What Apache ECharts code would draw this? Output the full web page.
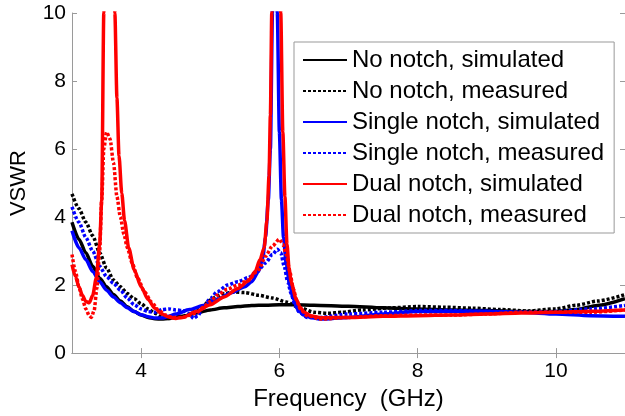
<!DOCTYPE html>
<html><head><meta charset="utf-8">
<script src="https://cdn.jsdelivr.net/npm/echarts@6/dist/echarts.min.js"></script>
<style>html,body{margin:0;padding:0;background:#fff}#c{width:625px;height:416px}</style>
</head><body><div id="c"></div>
<script>
const seriesNames = ['No notch, simulated','No notch, measured','Single notch, simulated','Single notch, measured','Dual notch, simulated','Dual notch, measured'];
const xTicks = [4, 6, 8, 10];
const yTicks = [0, 2, 4, 6, 8, 10];
const xName = 'Frequency  (GHz)';
const yName = 'VSWR';

const nsSimF = [3.0,3.1,3.2,3.3,3.4,3.5,3.6,3.7,3.8,3.9,4.0,4.1,4.2,4.3,4.4,4.6,4.8,5.0,5.2,5.4,5.6,5.8,6.0,6.2,6.5,7.0,7.5,8.0,8.5,9.0,9.5,10.0,10.3,10.6,11.0];
const nsSimV = [3.85,3.35,2.95,2.55,2.2,1.95,1.72,1.53,1.36,1.22,1.12,1.05,1.01,1.0,1.02,1.08,1.18,1.27,1.33,1.37,1.4,1.41,1.42,1.42,1.41,1.38,1.33,1.3,1.27,1.25,1.22,1.22,1.28,1.4,1.6];

const nsMeasF = [3.0,3.1,3.2,3.3,3.4,3.5,3.6,3.7,3.8,3.9,4.0,4.1,4.2,4.3,4.4,4.5,4.6,4.7,4.8,4.9,5.0,5.1,5.2,5.35,5.5,5.7,5.9,6.1,6.3,6.5,6.7,6.9,7.2,7.6,8.0,8.4,8.8,9.2,9.6,10.0,10.3,10.6,11.0];
const nsMeasV = [4.68,4.25,3.85,3.45,2.95,2.5,2.15,1.95,1.75,1.6,1.45,1.3,1.17,1.06,1.02,1.04,1.08,1.15,1.25,1.4,1.56,1.68,1.75,1.8,1.78,1.7,1.62,1.5,1.33,1.2,1.17,1.2,1.27,1.33,1.37,1.35,1.32,1.28,1.24,1.3,1.41,1.53,1.72];

const ssSimF = [3.0,3.1,3.2,3.3,3.4,3.5,3.6,3.7,3.8,3.9,4.0,4.1,4.2,4.3,4.4,4.5,4.7,4.9,5.1,5.3,5.5,5.6,5.7,5.76,5.8,5.84,5.87,5.9,5.93,5.97,6.0,6.03,6.06,6.1,6.15,6.2,6.26,6.35,6.45,6.6,7.0,7.5,8.0,8.5,9.0,9.5,10.0,10.5,11.0];
const ssSimV = [3.6,3.1,2.75,2.4,2.1,1.85,1.65,1.48,1.33,1.22,1.13,1.07,1.03,1.03,1.08,1.15,1.28,1.4,1.58,1.77,1.95,2.1,2.4,2.8,3.4,4.5,6,10,16,10,6.5,4.5,3.4,2.6,2.0,1.6,1.3,1.12,1.05,1.0,1.05,1.15,1.22,1.23,1.23,1.2,1.15,1.1,1.08];

const ssMeasF = [3.0,3.1,3.2,3.3,3.4,3.5,3.6,3.7,3.8,3.9,4.0,4.1,4.2,4.3,4.4,4.5,4.6,4.7,4.76,4.82,4.9,5.0,5.1,5.25,5.4,5.55,5.7,5.8,5.9,5.97,6.02,6.07,6.12,6.17,6.22,6.28,6.4,6.6,7.0,7.5,8.0,8.5,9.0,9.5,10.0,10.5,11.0];
const ssMeasV = [4.3,3.85,3.4,3.0,2.55,2.25,2.05,1.85,1.62,1.42,1.3,1.22,1.2,1.28,1.3,1.27,1.25,1.15,1.02,1.1,1.35,1.6,1.8,2.0,2.1,2.22,2.45,2.65,2.9,3.05,2.95,2.55,2.1,1.75,1.45,1.22,1.05,1.05,1.15,1.2,1.25,1.25,1.22,1.2,1.22,1.3,1.4];

const dnSimF = [3.0,3.05,3.1,3.15,3.2,3.25,3.3,3.35,3.4,3.43,3.46,3.5,3.54,3.58,3.62,3.65,3.68,3.72,3.76,3.82,3.9,4.0,4.1,4.2,4.3,4.4,4.5,4.6,4.8,5.0,5.2,5.4,5.55,5.65,5.72,5.78,5.82,5.85,5.87,5.89,5.95,6.02,6.05,6.08,6.11,6.14,6.17,6.24,6.3,6.36,6.45,6.6,7.0,7.5,8.0,8.5,9.0,9.5,10.0,10.5,11.0];
const dnSimV = [2.6,2.25,1.95,1.7,1.52,1.48,1.7,2.2,3.2,4.5,10,20,25,20,10,7.5,5.8,4.7,3.9,3.1,2.45,1.95,1.58,1.32,1.15,1.06,1.02,1.05,1.22,1.42,1.65,1.9,2.12,2.4,2.75,3.1,3.9,5.2,7,10,18,10,6.5,4.6,3.2,2.5,2.1,1.6,1.35,1.2,1.1,1.04,1.05,1.08,1.1,1.12,1.15,1.18,1.2,1.23,1.27];

const dnMeasF = [3.0,3.05,3.1,3.15,3.2,3.25,3.28,3.32,3.36,3.4,3.43,3.46,3.5,3.55,3.6,3.65,3.7,3.75,3.8,3.87,3.95,4.05,4.15,4.25,4.35,4.45,4.6,4.8,4.9,5.0,5.1,5.25,5.4,5.55,5.7,5.8,5.9,6.0,6.05,6.1,6.15,6.2,6.25,6.3,6.4,6.6,7.0,7.5,8.0,8.5,9.0,9.5,10.0,10.5,11.0];
const dnMeasV = [2.9,2.4,1.95,1.6,1.3,1.1,1.05,1.25,1.9,3.0,4.5,6.0,6.5,6.3,5.6,4.6,4.0,3.5,3.1,2.65,2.2,1.8,1.5,1.27,1.12,1.05,1.05,1.18,1.35,1.52,1.7,1.88,2.0,2.15,2.45,2.85,3.15,3.35,3.2,2.9,2.4,1.9,1.55,1.3,1.1,1.0,1.05,1.1,1.12,1.12,1.15,1.2,1.2,1.2,1.27];

const zip = (f, v) => f.map((x, i) => [x, v[i]]);
const seriesData = [zip(nsSimF, nsSimV), zip(nsMeasF, nsMeasV), zip(ssSimF, ssSimV), zip(ssMeasF, ssMeasV), zip(dnSimF, dnSimV), zip(dnMeasF, dnMeasV)];
const colors = ['#000000', '#000000', '#0000ff', '#0000ff', '#ff0000', '#ff0000'];
const dashed = [false, true, false, true, false, true];

const FONT = 'Liberation Sans, Arial, sans-serif';
const axisGray = '#9a9a9a';

const chart = echarts.init(document.getElementById('c'), null, {renderer: 'canvas'});
const baseX = {
  type: 'value', min: 3, max: 11,
  axisLine: {show: true, lineStyle: {color: axisGray, width: 1}},
  axisTick: {show: true, inside: true, length: 5, customValues: xTicks, lineStyle: {color: axisGray}},
  splitLine: {show: false}
};
const baseY = {
  type: 'value', min: 0, max: 10, interval: 2,
  axisLine: {show: true, lineStyle: {color: axisGray, width: 1}},
  axisTick: {show: true, inside: true, length: 5, lineStyle: {color: axisGray}},
  splitLine: {show: false}
};
chart.setOption({
  animation: false,
  backgroundColor: '#fff',
  grid: {left: 70, top: 13, right: -1, bottom: 61, containLabel: false},
  xAxis: [
    Object.assign({}, baseX, {position: 'bottom',
      axisLabel: {customValues: xTicks, fontSize: 21, color: '#000', fontFamily: FONT, margin: 8},
      name: xName, nameLocation: 'middle', nameGap: 29,
      nameTextStyle: {fontSize: 24, color: '#000', fontFamily: FONT}}),
    Object.assign({}, baseX, {position: 'top', axisLabel: {show: false}})
  ],
  yAxis: [
    Object.assign({}, baseY, {position: 'left',
      axisLabel: {fontSize: 21, color: '#000', fontFamily: FONT, margin: 6},
      name: yName, nameLocation: 'middle', nameGap: 42,
      nameTextStyle: {fontSize: 22, color: '#000', fontFamily: FONT}}),
    Object.assign({}, baseY, {position: 'right', axisLabel: {show: false}})
  ],
  legend: {
    orient: 'vertical', left: 294, top: 42,
    itemWidth: 44, itemHeight: 14, itemGap: 5,
    padding: [5, 10, 5, 8],
    borderColor: '#999', borderWidth: 1, backgroundColor: '#fff',
    itemStyle: {opacity: 0},
    textStyle: {fontSize: 24, color: '#000', fontFamily: FONT, lineHeight: 26},
    data: seriesNames
  },
  series: seriesNames.map((n, i) => ({
    name: n, type: 'line', xAxisIndex: 0, yAxisIndex: 0,
    data: seriesData[i], showSymbol: false, symbol: 'none',
    smooth: 0.25, smoothMonotone: 'x', clip: true,
    lineStyle: {color: colors[i], width: 3.5, type: dashed[i] ? [3, 2] : 'solid', cap: 'butt'},
    itemStyle: {color: colors[i]}
  }))
});
</script></body></html>
